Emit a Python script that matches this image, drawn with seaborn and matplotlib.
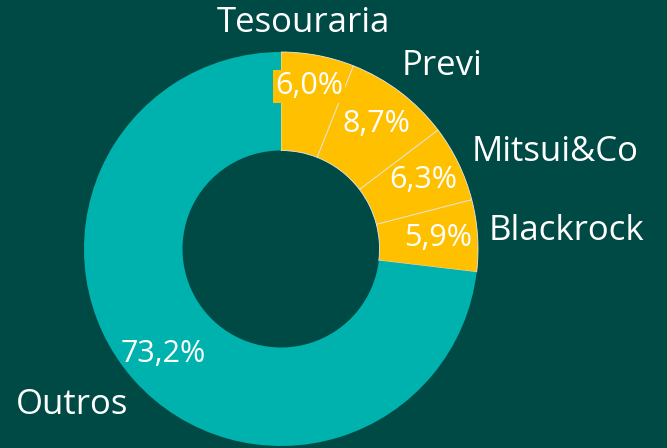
import matplotlib
matplotlib.use("Agg")
import matplotlib.pyplot as plt
import seaborn as sns

# shares by holder (%), clockwise from the top
holders = ["Tesouraria", "Previ", "Mitsui&Co", "Blackrock", "Outros"]
shares = [6.0, 8.7, 6.3, 5.9, 73.2]

BG = "#004a45"
YELLOW = "#ffc000"
TEAL = "#00b2ad"

sns.set_theme(style="white")
plt.rcParams["font.family"] = ["Open Sans", "DejaVu Sans"]

colors = [YELLOW] * 4 + [TEAL]

fig = plt.figure(figsize=(6.67, 4.48), dpi=100, facecolor=BG)
ax = fig.add_axes([0, 0, 1, 1], facecolor=BG)

wedges, texts, autotexts = ax.pie(
    shares,
    labels=holders,
    colors=colors,
    startangle=90,
    counterclock=False,
    autopct="%1.1f%%",
    pctdistance=0.8,
    labeldistance=1.1,
    radius=1.0,
    wedgeprops=dict(width=0.5, edgecolor="#e8e8e8", linewidth=0.6),
    textprops=dict(color="white", fontsize=25),
)

# only the yellow slices show the thin light outline
wedges[-1].set_edgecolor(TEAL)
wedges[-1].set_linewidth(0)

for t, v in zip(autotexts, shares):
    t.set_text(f"{v:.1f}%".replace(".", ","))
    t.set_fontsize(22)
    t.set_color("white")

# first label sits over the slice edge on a yellow box, a bit higher
autotexts[0].set_bbox(dict(facecolor=YELLOW, edgecolor="none", pad=1.0))
x, y = autotexts[0].get_position()
autotexts[0].set_position((x * 0.95, y * 1.05))

# Tesouraria label is centred above the top of the ring
texts[0].set_horizontalalignment("center")

# small nudges of the outer labels (x factor, y factor)
nudges = [(0.55, 1.06), (0.92, 1.06), (0.975, 1.03), (0.96, 1.2), (0.94, 1.085)]
for t, (fx, fy) in zip(texts, nudges):
    x, y = t.get_position()
    t.set_position((x * fx, y * fy))

scale = 197.0
ax.set_xlim(-281 / scale, (667 - 281) / scale)
ax.set_ylim(-(448 - 249) / scale, 249 / scale)
ax.set_aspect("equal")
ax.axis("off")

fig.savefig("out.png", dpi=100, facecolor=BG)
